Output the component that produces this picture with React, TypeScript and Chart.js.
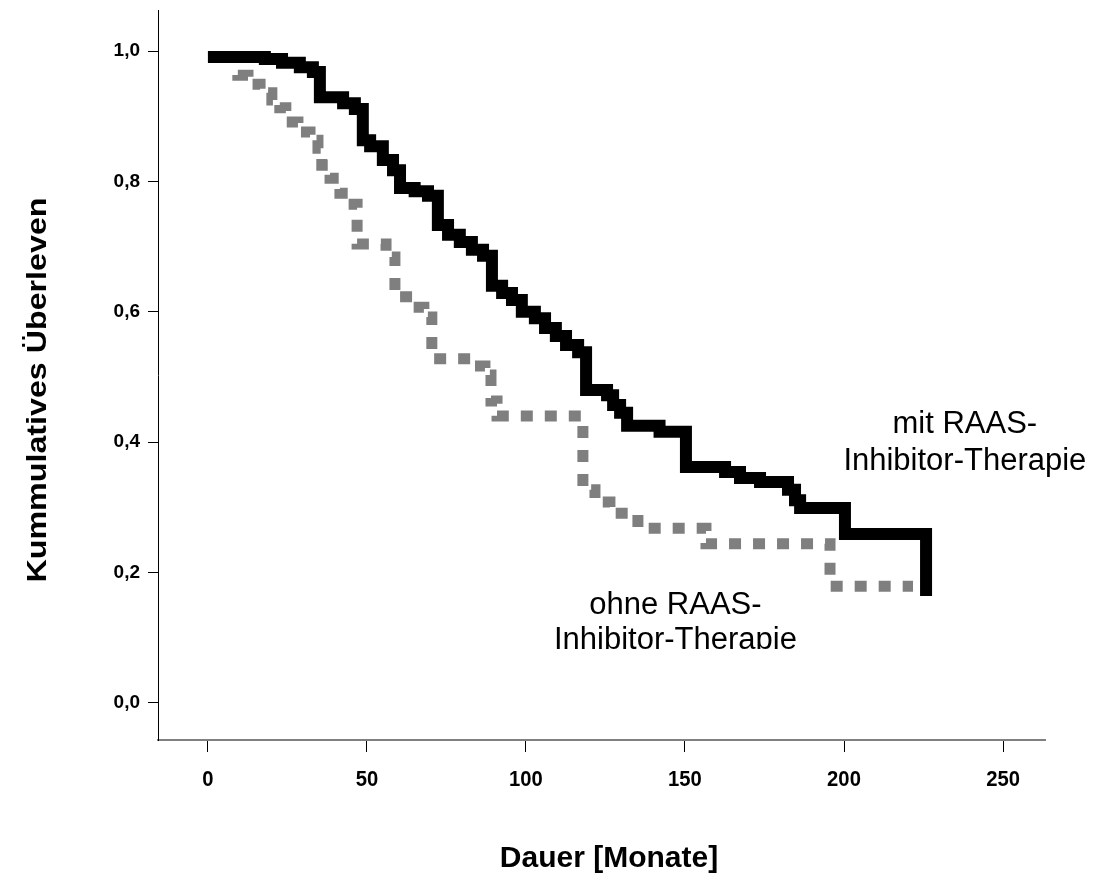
import React, { useEffect, useRef } from "react";
import { Chart, registerables } from "chart.js";

Chart.register(...registerables);

// Kaplan-Meier: mit RAAS-Inhibitor-Therapie (solid black)
const mitMonths = [0, 17.9, 23.3, 28.9, 33, 35.2, 42.5, 46.2, 48.7, 51, 55, 58.2, 60.4, 65, 69.2, 72.3, 75.5, 79.2, 83, 86.5, 89.3, 92.5, 95.6, 98.7, 102.8, 106, 109.4, 112.6, 116.4, 118.9, 125.5, 127.4, 129.6, 131.8, 142, 150.3, 162.6, 167.3, 173.6, 182.4, 184.6, 186.2, 200.3, 225.8];
const mitSurvival = [0.991, 0.988, 0.982, 0.975, 0.968, 0.929, 0.92, 0.911, 0.863, 0.854, 0.833, 0.817, 0.79, 0.785, 0.778, 0.733, 0.718, 0.707, 0.695, 0.686, 0.64, 0.629, 0.618, 0.6, 0.59, 0.575, 0.563, 0.549, 0.538, 0.48, 0.472, 0.457, 0.445, 0.425, 0.416, 0.362, 0.354, 0.345, 0.339, 0.327, 0.311, 0.299, 0.259, 0.164];

// ohne RAAS-Inhibitor-Therapie (grey dashed)
const ohneMonths = [0, 9.4, 12.6, 16.4, 20.1, 22.6, 24.5, 28.3, 32.1, 34.6, 35.8, 38.4, 41.5, 44.0, 46.9, 56.0, 58.8, 64.2, 67.9, 70.4, 83.0, 87.1, 89.0, 90.9, 117.9, 121.7, 126.4, 135.2, 156.6, 195.6, 221.7];
const ohneSurvival = [0.991, 0.963, 0.949, 0.936, 0.925, 0.913, 0.891, 0.876, 0.863, 0.851, 0.825, 0.805, 0.782, 0.765, 0.704, 0.684, 0.623, 0.607, 0.592, 0.528, 0.517, 0.503, 0.463, 0.44, 0.327, 0.308, 0.291, 0.268, 0.244, 0.179, 0.179];

const xTickValues = [0, 50, 100, 150, 200, 250];
const xTickLabels = ["0", "50", "100", "150", "200", "250"];
const yTickValues = [0, 0.2, 0.4, 0.6, 0.8, 1.0];
const yTickLabels = ["0,0", "0,2", "0,4", "0,6", "0,8", "1,0"];

const xTitle = "Dauer [Monate]";
const yTitle = "Kummulatives Überleven";
const mitLabel = ["mit RAAS-", "Inhibitor-Therapie"];
const ohneLabel = ["ohne RAAS-", "Inhibitor-Therapie"];

const FONT = "'Liberation Sans', Arial, sans-serif";

const textPlugin = {
  id: "kmTexts",
  afterDraw(chart: any) {
    const ctx = chart.ctx as CanvasRenderingContext2D;
    const xs = chart.scales.x;
    const ys = chart.scales.y;
    ctx.save();
    ctx.fillStyle = "#000";
    ctx.textBaseline = "middle";
    ctx.textAlign = "center";
    // x tick labels (narrow bold)
    ctx.font = `bold 22px ${FONT}`;
    xTickValues.forEach((v, i) => {
      const px = xs.getPixelForValue(v);
      ctx.save();
      ctx.translate(px, 780);
      ctx.scale(0.92, 1);
      ctx.fillText(xTickLabels[i], 0, 0);
      ctx.restore();
    });
    // annotations
    ctx.textBaseline = "alphabetic";
    ctx.font = `31px ${FONT}`;
    const mx = xs.getPixelForValue(238);
    const my = ys.getPixelForValue(0.414);
    ctx.fillText(mitLabel[0], mx, my);
    ctx.fillText(mitLabel[1], mx, my + 37);
    const ox = xs.getPixelForValue(147);
    const oy = ys.getPixelForValue(0.136);
    ctx.fillText(ohneLabel[0], ox, oy);
    ctx.save();
    ctx.beginPath();
    ctx.rect(0, 0, 1109, 649);
    ctx.clip();
    ctx.fillText(ohneLabel[1], ox, oy + 35);
    ctx.restore();
    // x title
    ctx.font = `bold 30px ${FONT}`;
    ctx.fillText(xTitle, 609, 867);
    // y title
    ctx.translate(46, 390);
    ctx.rotate(-Math.PI / 2);
    ctx.font = `bold 28px ${FONT}`;
    const w = ctx.measureText(yTitle).width;
    ctx.scale(385 / w, 1);
    ctx.fillText(yTitle, 0, 0);
    ctx.restore();
  },
};

export default function App() {
  const ref = useRef<HTMLCanvasElement | null>(null);
  useEffect(() => {
    if (!ref.current) return;
    const chart = new Chart(ref.current, {
      type: "line",
      data: {
        datasets: [
          {
            label: "mit RAAS-Inhibitor-Therapie",
            data: mitMonths.map((m, i) => ({ x: m, y: mitSurvival[i] })),
            borderColor: "#000000",
            borderWidth: 12,
            stepped: true,
            pointRadius: 0,
            fill: false,
            borderJoinStyle: "miter",
            borderCapStyle: "butt",
          },
          {
            label: "ohne RAAS-Inhibitor-Therapie",
            data: ohneMonths.map((m, i) => ({ x: m, y: ohneSurvival[i] })),
            borderColor: "#7f7f7f",
            borderWidth: 11,
            borderDash: [12, 12],
            stepped: true,
            pointRadius: 0,
            fill: false,
            borderJoinStyle: "miter",
            borderCapStyle: "butt",
          },
        ],
      },
      options: {
        animation: false,
        responsive: false,
        maintainAspectRatio: false,
        layout: { padding: { top: 10, right: 64, left: 0, bottom: 0 } },
        plugins: { legend: { display: false }, tooltip: { enabled: false }, title: { display: false } },
        scales: {
          x: {
            type: "linear",
            min: -15.7,
            max: 263.2,
            afterBuildTicks: (s: any) => {
              s.ticks = xTickValues.map((v) => ({ value: v }));
            },
            afterFit: (s: any) => {
              s.height = 137;
              s.paddingLeft = 0;
              s.paddingRight = 0;
            },
            ticks: {
              display: false,
              autoSkip: false,
              maxRotation: 0,
            },
            grid: { drawOnChartArea: false, drawTicks: true, tickLength: 12, color: "#000", lineWidth: 1 },
            border: { display: true, color: "#808080", width: 2 },
          },
          y: {
            type: "linear",
            min: -0.057,
            max: 1.063,
            afterBuildTicks: (s: any) => {
              s.ticks = yTickValues.map((v) => ({ value: v }));
            },
            afterFit: (s: any) => {
              s.width = 158;
              s.paddingTop = 0;
              s.paddingBottom = 0;
            },
            ticks: {
              autoSkip: false,
              padding: 8,
              color: "#000",
              font: { family: FONT, size: 19, weight: "bold" },
              callback: (_v: any, i: number) => yTickLabels[i],
            },
            grid: { drawOnChartArea: false, drawTicks: true, tickLength: 10, color: "#000", lineWidth: 1 },
            border: { display: true, color: "#000", width: 1 },
          },
        },
      },
      plugins: [textPlugin],
    });
    return () => chart.destroy();
  }, []);
  return (
    <div style={{ position: "absolute", left: 0, top: 0, width: 1109, height: 877, background: "#fff" }}>
      <canvas ref={ref} width={1109} height={877} style={{ width: 1109, height: 877 }} />
    </div>
  );
}
